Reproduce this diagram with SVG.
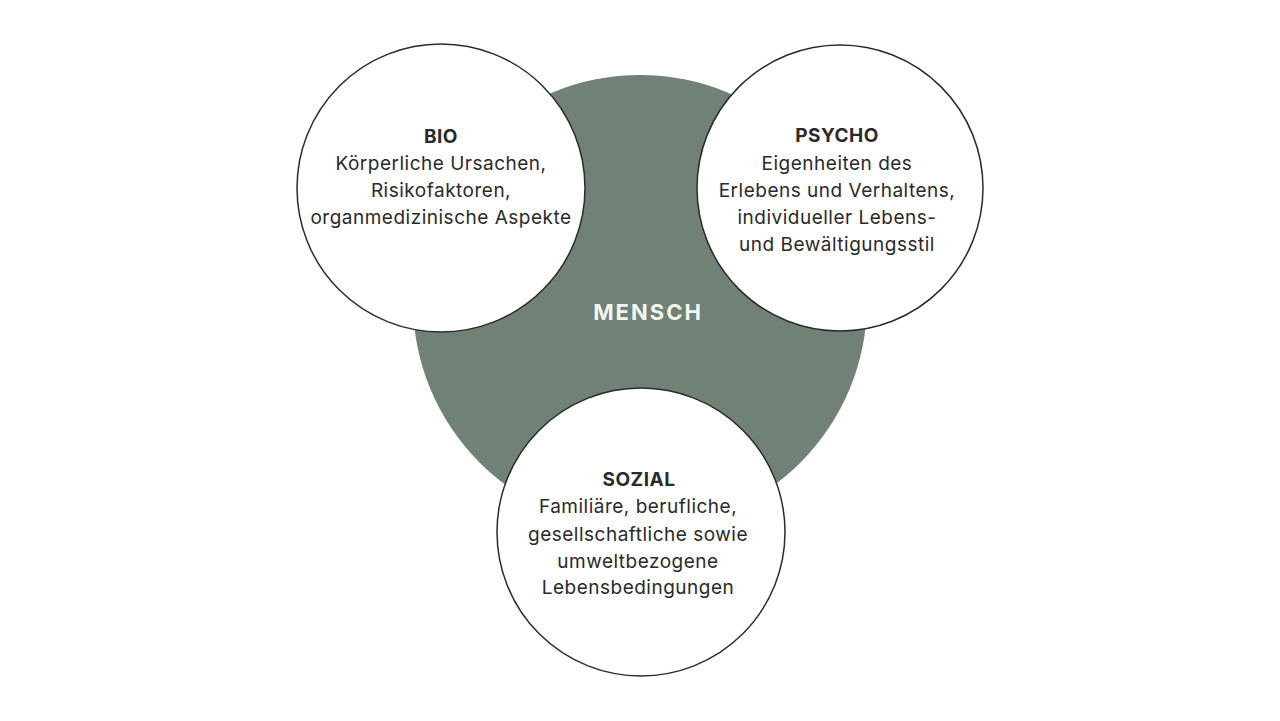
<svg xmlns="http://www.w3.org/2000/svg" width="1280" height="721" viewBox="0 0 1280 721">
<style>
.bub{fill:#ffffff;stroke:#2b2b2b;stroke-width:1.5}
.t{font-family:Inter,"Liberation Sans",sans-serif;font-size:19px;letter-spacing:0.5px;fill:#2a2a2a;text-anchor:middle}
.h{font-weight:700}
.m{font-family:Inter,"Liberation Sans",sans-serif;font-size:22px;font-weight:700;fill:#f2f6f0;text-anchor:middle;letter-spacing:2px}
</style>
<rect width="1280" height="721" fill="#ffffff"/>
<g id="mensch">
<circle cx="640" cy="302" r="227" fill="#6f8275"/>
<text class="m" x="648" y="320">MENSCH</text>
</g>
<g id="bio">
<circle class="bub" cx="441" cy="188" r="144"/>
<text class="t h" x="441" y="143">BIO</text>
<text class="t" x="441" y="170">Körperliche Ursachen,</text>
<text class="t" x="441" y="197">Risikofaktoren,</text>
<text class="t" x="441" y="224">organmedizinische Aspekte</text>
</g>
<g id="psycho">
<circle class="bub" cx="840" cy="188" r="143"/>
<text class="t h" x="837" y="142">PSYCHO</text>
<text class="t" x="837" y="170">Eigenheiten des</text>
<text class="t" x="837" y="197">Erlebens und Verhaltens,</text>
<text class="t" x="837" y="224">individueller Lebens-</text>
<text class="t" x="837" y="251">und Bewältigungsstil</text>
</g>
<g id="sozial">
<circle class="bub" cx="641" cy="532" r="144"/>
<text class="t h" x="639" y="486">SOZIAL</text>
<text class="t" x="638" y="513">Familiäre, berufliche,</text>
<text class="t" x="638" y="541">gesellschaftliche sowie</text>
<text class="t" x="638" y="568">umweltbezogene</text>
<text class="t" x="638" y="594">Lebensbedingungen</text>
</g>
<g id="connectors"></g>
</svg>
